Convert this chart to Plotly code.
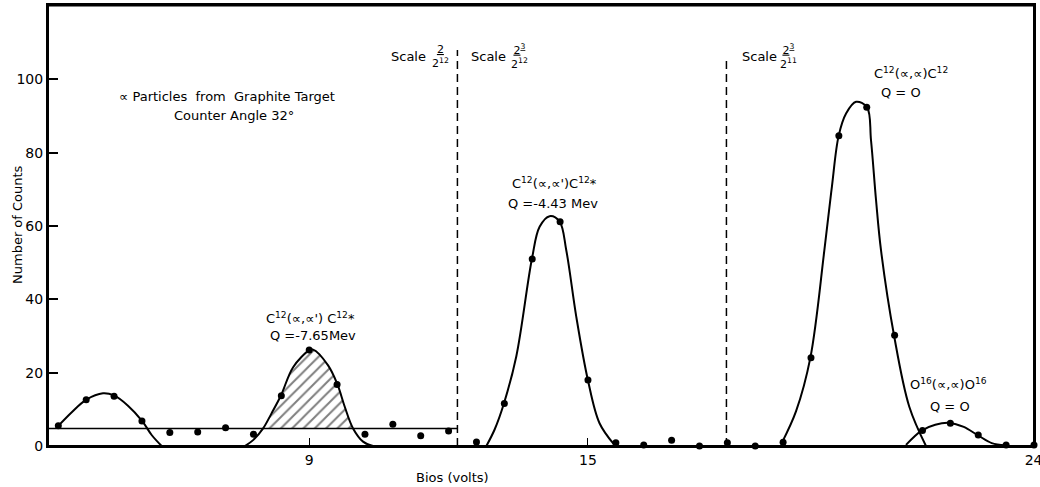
import plotly.graph_objects as go

# ---- data ----
bias = [3.6, 4.2, 4.8, 5.4, 6.0, 6.6, 7.2, 7.8, 8.4, 9.0, 9.6, 10.2,
        10.8, 11.4, 12.0, 12.6, 13.2, 13.8, 14.4, 15.0, 15.6, 16.2, 16.8,
        17.4, 18.0, 18.6, 19.2, 19.8, 20.4, 21.0, 21.6, 22.2, 22.8, 23.4,
        24.0, 24.6]
counts = [5.5, 12.6, 13.6, 6.8, 3.7, 3.8, 5.0, 3.2, 13.7, 26.2, 16.8, 3.2,
          5.9, 2.8, 4.1, 1.1, 11.6, 51.0, 61.2, 18.0, 0.9, 0.3, 1.6, 0.0,
          0.9, 0.0, 1.0, 24.1, 84.6, 92.4, 30.2, 4.2, 6.2, 3.0, 0.3, 0.3]

# hand-drawn fitted curves
c1_x = [3.600, 3.895, 4.196, 4.561, 4.798, 5.099, 5.406, 5.609, 5.824]
c1_y = [5.5, 9.3, 12.6, 14.4, 13.8, 11.0, 6.8, 3.0, 0.0]

c2_x = [7.615, 7.793, 8.008, 8.189, 8.389, 8.654, 8.991, 9.084, 9.406,
        9.608, 9.765, 9.944, 10.159, 10.374]
c2_y = [0.0, 1.6, 4.8, 8.9, 13.7, 21.5, 26.0, 26.3, 22.0, 16.8, 10.7, 4.8,
        1.2, 0.0]

hatch_x = [8.008, 8.189, 8.389, 8.654, 8.991, 9.084, 9.406, 9.608, 9.765, 9.944]
hatch_y = [4.8, 8.9, 13.7, 21.5, 26.0, 26.3, 22.0, 16.8, 10.7, 4.8]

c3_x = [12.813, 12.991, 13.191, 13.458, 13.793, 13.959, 14.174, 14.389,
        14.533, 14.748, 14.998, 15.249, 15.557]
c3_y = [0.0, 4.5, 11.6, 24.5, 51.0, 59.8, 62.7, 61.2, 53.4, 35.3, 18.0, 6.2, 0.5]

c4_x = [19.178, 19.479, 19.787, 20.088, 20.250, 20.395, 20.555, 20.770,
        21.006, 21.092, 21.200, 21.307, 21.587, 21.916, 22.275]
c4_y = [1.0, 9.5, 24.1, 53.4, 70.7, 84.6, 90.7, 93.9, 92.4, 83.4, 67.1,
        53.4, 30.2, 10.7, 0.0]

c5_x = [21.845, 22.181, 22.475, 22.781, 23.088, 23.383, 23.690, 23.984]
c5_y = [0.3, 4.2, 5.8, 6.3, 5.2, 3.0, 0.8, 0.2]

background_x = [3.378, 12.19]
background_y = [4.8, 4.8]

divider_x = [12.19, 17.98]
divider_top = [108, 106]

x_tickvals = [9, 15, 24.59]
x_ticktext = ["9", "15", "24"]
y_tickvals = [0, 20, 40, 60, 80, 100]

FONT = "DejaVu Sans"
ink = "black"

fig = go.Figure()

# hatched area
fig.add_trace(go.Scatter(x=hatch_x, y=hatch_y, mode="lines", line_shape="spline",
                         line=dict(width=0, color=ink), fill="toself",
                         fillcolor="rgba(0,0,0,0)",
                         fillpattern=dict(shape="/", fgcolor=ink, size=8, solidity=0.25),
                         hoverinfo="skip", showlegend=False))

for cx, cy in [(c1_x, c1_y), (c2_x, c2_y), (c3_x, c3_y), (c4_x, c4_y), (c5_x, c5_y)]:
    fig.add_trace(go.Scatter(x=cx, y=cy, mode="lines", line_shape="spline",
                             line=dict(color=ink, width=2), showlegend=False,
                             hoverinfo="skip", cliponaxis=False))

fig.add_trace(go.Scatter(x=background_x, y=background_y, mode="lines",
                         line=dict(color=ink, width=1.5), showlegend=False))

for dx, dt in zip(divider_x, divider_top):
    fig.add_trace(go.Scatter(x=[dx, dx], y=[0, dt], mode="lines",
                             line=dict(color=ink, width=1.5, dash="8px,5px"),
                             showlegend=False))

fig.add_trace(go.Scatter(x=bias, y=counts, mode="markers",
                         marker=dict(color=ink, size=7), showlegend=False,
                         cliponaxis=False))

# plot frame (heavier top edge as in the original)
fig.add_shape(type="rect", xref="paper", yref="paper", x0=0, x1=1, y0=0, y1=1,
              line=dict(color=ink, width=2), layer="above")
fig.add_shape(type="line", xref="paper", yref="paper", x0=0, x1=1, y0=1, y1=1,
              line=dict(color=ink, width=3), layer="above")

def ann(x, y, text, size=13, xanchor="center", angle=0):
    fig.add_annotation(x=x, y=y, xref="paper", yref="paper", text=text,
                       showarrow=False, xanchor=xanchor, yanchor="middle",
                       textangle=angle,
                       font=dict(family=FONT, size=size, color=ink))

# pixel -> paper helpers (plot area: x 48..1034, y 5..446)
def px(xp):
    return (xp - 48) / (1034 - 48)

def py(yp):
    return (446 - yp) / (446 - 5)

ann(px(227), py(96), "∝ Particles  from  Graphite Target", 13)
ann(px(234), py(116), "Counter Angle 32°", 13)

ann(px(408), py(56), "Scale", 13)
ann(px(440), py(56), "<u>2</u><br>2<sup>12</sup>", 11)
ann(px(488), py(56), "Scale", 13)
ann(px(519), py(56), "<u>2<sup>3</sup></u><br>2<sup>12</sup>", 11)
ann(px(759), py(57), "Scale", 13)
ann(px(788), py(57), "<u>2<sup>3</sup></u><br>2<sup>11</sup>", 11)

ann(px(310), py(318), "C<sup>12</sup>(∝,∝') C<sup>12</sup>*", 13)
ann(px(313), py(335), "Q =-7.65Mev", 13)
ann(px(554), py(183), "C<sup>12</sup>(∝,∝')C<sup>12</sup>*", 13)
ann(px(553), py(203), "Q =-4.43 Mev", 13)
ann(px(911), py(73), "C<sup>12</sup>(∝,∝)C<sup>12</sup>", 13)
ann(px(901), py(92), "Q = O", 13)
ann(px(948), py(384), "O<sup>16</sup>(∝,∝)O<sup>16</sup>", 13)
ann(px(950), py(406), "Q = O", 13)

# axis titles
ann(px(452), py(477), "Bios (volts)", 13)
ann(px(17), py(225), "Number of Counts", 13, angle=-90)

fig.update_layout(
    width=1040, height=487,
    margin=dict(l=48, r=6, t=5, b=41),
    paper_bgcolor="white", plot_bgcolor="white",
    font=dict(family=FONT, size=13, color=ink),
    xaxis=dict(range=[3.378, 24.6], showgrid=False, zeroline=False,
               showline=True, linecolor=ink, linewidth=2, mirror=True,
               ticks="inside", ticklen=8, tickcolor=ink, tickwidth=1,
               tickvals=x_tickvals, ticktext=x_ticktext,
               ticklabeloverflow="allow",
               tickfont=dict(size=14), automargin=False),
    yaxis=dict(range=[0, 120.3], showgrid=False, zeroline=False,
               showline=True, linecolor=ink, linewidth=2, mirror=True,
               ticks="inside", ticklen=10, tickcolor=ink, tickwidth=1.5,
               tickvals=y_tickvals, tickfont=dict(size=14), automargin=False),
)

fig.write_html("out.html", config={"displayModeBar": False},
               post_script="document.body.style.margin='0';document.body.style.overflow='hidden';")
